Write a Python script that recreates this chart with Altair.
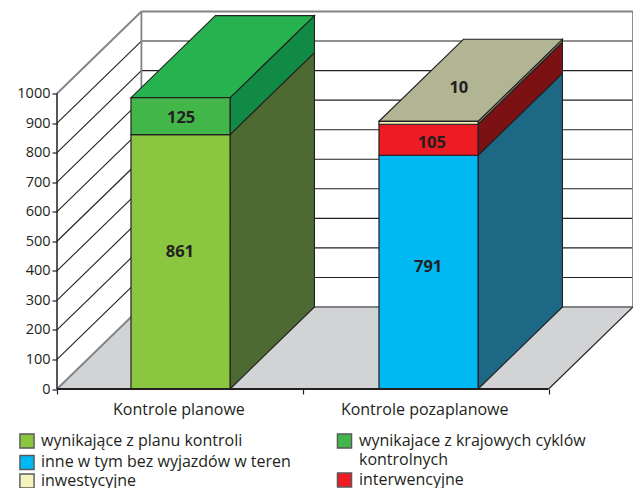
import altair as alt
import pandas as pd

# ---- values ----
categories = ["Kontrole planowe", "Kontrole pozaplanowe"]
series_names = ["wynikające z planu kontroli", "wynikajace z krajowych cyklów kontrolnych",
                "inne w tym bez wyjazdów w teren", "interwencyjne", "inwestycyjne"]
planowe = [("wynikające z planu kontroli", 861), ("wynikajace z krajowych cyklów kontrolnych", 125)]
pozaplanowe = [("inne w tym bez wyjazdów w teren", 791), ("interwencyjne", 105), ("inwestycyjne", 10)]
y_ticks = [0, 100, 200, 300, 400, 500, 600, 700, 800, 900, 1000]

# ---- styles ----
INK = "#231f20"
GREY = "#808285"
FONT = "Open Sans"
front_col = {series_names[0]: "#8ac640", series_names[1]: "#43b649", series_names[2]: "#00b9f2",
             series_names[3]: "#ed1c24", series_names[4]: "#f5f3bd"}
side_col = {series_names[0]: "#4e6a33", series_names[1]: "#118a46", series_names[2]: "#1d6884",
            series_names[3]: "#7b1113", series_names[4]: "#8f8f70"}
top_col = {0: "#26b24f", 1: "#b1b594"}

# ---- 3-D projection in data units ----
DU, DV = 0.3434, 277.5
BARS = [(0.301, 0.704), (1.31, 1.713)]

front, side, top = [], [], []
for i, stack in enumerate([planowe, pozaplanowe]):
    l, r = BARS[i]
    base = 0
    for name, val in stack:
        t = base + val
        front.append(dict(x0=l, x1=r, y0=base, y1=t, fill=front_col[name]))
        key = f"{i}-{name}"
        side.append(dict(key=key, x=r, y0=base, y1=t, fill=side_col[name]))
        side.append(dict(key=key, x=r + DU, y0=base + DV, y1=t + DV, fill=side_col[name]))
        base = t
    top.append(dict(key=i, y=base, x0=l, x1=r, fill=top_col[i]))
    top.append(dict(key=i, y=base + DV, x0=l + DU, x1=r + DU, fill=top_col[i]))

label_rows = pd.DataFrame({
    "t": ["861", "125", "791", "105", "10"],
    "x": [0.50, 0.505, 1.51, 1.525, 1.635],
    "y": [465, 917, 414, 833, 1017],
})

df_front, df_side, df_top = map(pd.DataFrame, (front, side, top))

X = alt.Scale(domain=[0, 2 + DU], nice=False, zero=False)
Y = alt.Scale(domain=[0, 1000 + DV], nice=False, zero=False)
AX = alt.Axis(values=[0, 1, 2], labels=False, domain=False, grid=False, tickSize=5,
              tickColor=INK, tickWidth=1.2, title=None)
AY = alt.Axis(values=y_ticks, domain=False, grid=False, tickSize=5, tickColor=INK, tickWidth=1.2, format="d",
              labelFont=FONT, labelFontSize=14.5, labelColor=INK, labelPadding=2, title=None)


def ex(f):
    return alt.X(f, scale=X, axis=AX)


def ey(f):
    return alt.Y(f, scale=Y, axis=AY)


def seg(rows, color, width):
    d = pd.DataFrame(rows, columns=["a", "b", "c", "e"])
    return alt.Chart(d).mark_rule(color=color, strokeWidth=width).encode(
        x=ex("a:Q"), x2="c:Q", y=ey("b:Q"), y2="e:Q")


floor = alt.Chart(pd.DataFrame([dict(y=0, x0=0, x1=2), dict(y=DV, x0=DU, x1=2 + DU)])).mark_area(
    orient="horizontal", color="#d1d3d4").encode(y=ey("y:Q"), x=ex("x0:Q"), x2="x1:Q")

side_walls = seg([(0, v, DU, v + DV) for v in y_ticks[1:-1]], INK, 1.1)
back_grid = seg([(DU, v + DV, 2 + DU, v + DV) for v in y_ticks[1:-1]], INK, 1.1)
grey_frame = seg([(0, 1000, DU, 1000 + DV), (0, 0, DU, DV), (DU, DV, 2 + DU, DV), (DU, 1000 + DV, 2 + DU, 1000 + DV),
                  (DU, DV, DU, 1000 + DV), (2 + DU, DV, 2 + DU, 1000 + DV)], GREY, 1.8)
floor_edge = seg([(2, 0, 2 + DU, DV)], INK, 1.1)
axis_left = seg([(0, 0, 0, 1000)], INK, 1.5)
axis_bottom = seg([(0, 0, 2, 0)], INK, 2)

side_faces = alt.Chart(df_side).mark_area(orient="vertical", stroke=INK, strokeWidth=1.1).encode(
    x=ex("x:Q"), y=ey("y0:Q"), y2="y1:Q", color=alt.Color("fill:N", scale=None), detail="key:N")
top_faces = alt.Chart(df_top).mark_area(orient="horizontal", stroke=INK, strokeWidth=1.1).encode(
    y=ey("y:Q"), x=ex("x0:Q"), x2="x1:Q", color=alt.Color("fill:N", scale=None), detail="key:N")
front_faces = alt.Chart(df_front).mark_rect(stroke=INK, strokeWidth=1.2).encode(
    x=ex("x0:Q"), x2="x1:Q", y=ey("y0:Q"), y2="y1:Q", color=alt.Color("fill:N", scale=None))

values_text = alt.Chart(label_rows).mark_text(font=FONT, fontWeight="bold", fontSize=16.5, color=INK).encode(
    x=ex("x:Q"), y=ey("y:Q"), text="t:N")

cat_text = alt.Chart(pd.DataFrame({"t": categories, "x": [0.5, 1.5], "y": [0, 0]})).mark_text(
    font=FONT, fontSize=16, color=INK, dy=21, dx=-1).encode(x=ex("x:Q"), y=ey("y:Q"), text="t:N")

# legend (page pixel position minus plot origin)
OX, OY = 57, 11


def swatch(px, py, fill):
    return alt.Chart(pd.DataFrame({"k": [0]})).mark_square(
        size=200, fill=fill, stroke="#58595b", strokeWidth=1.4, opacity=1).encode(
        x=alt.value(px - OX), y=alt.value(py - OY))


def ltext(px, py, t):
    return alt.Chart(pd.DataFrame({"t": [t]})).mark_text(
        font=FONT, fontSize=16, color=INK, align="left", baseline="middle").encode(
        x=alt.value(px - OX), y=alt.value(py - OY), text="t:N")


legend = [
    swatch(27, 440.5, front_col[series_names[0]]), ltext(41, 440, series_names[0]),
    swatch(27, 462, front_col[series_names[2]]), ltext(41, 461, series_names[2]),
    swatch(27, 480.5, front_col[series_names[4]]), ltext(41, 480, series_names[4]),
    swatch(344.5, 440.5, front_col[series_names[1]]), ltext(359, 440, "wynikajace z krajowych cyklów"),
    ltext(359, 459, "kontrolnych"),
    swatch(344.5, 479.5, front_col[series_names[3]]), ltext(359, 479.5, series_names[3]),
]

chart = alt.layer(floor, side_walls, back_grid, grey_frame, floor_edge, side_faces, top_faces, front_faces,
                  axis_left, axis_bottom, values_text, cat_text, *legend).properties(
    width=576, height=377.5,
    padding={"left": 49, "top": 3.5, "right": 0, "bottom": 99},
    autosize=alt.AutoSizeParams(type="none"),
    background="white",
).configure_view(stroke=None)

chart.save("out.html", embed_options={"renderer": "svg", "actions": False})
